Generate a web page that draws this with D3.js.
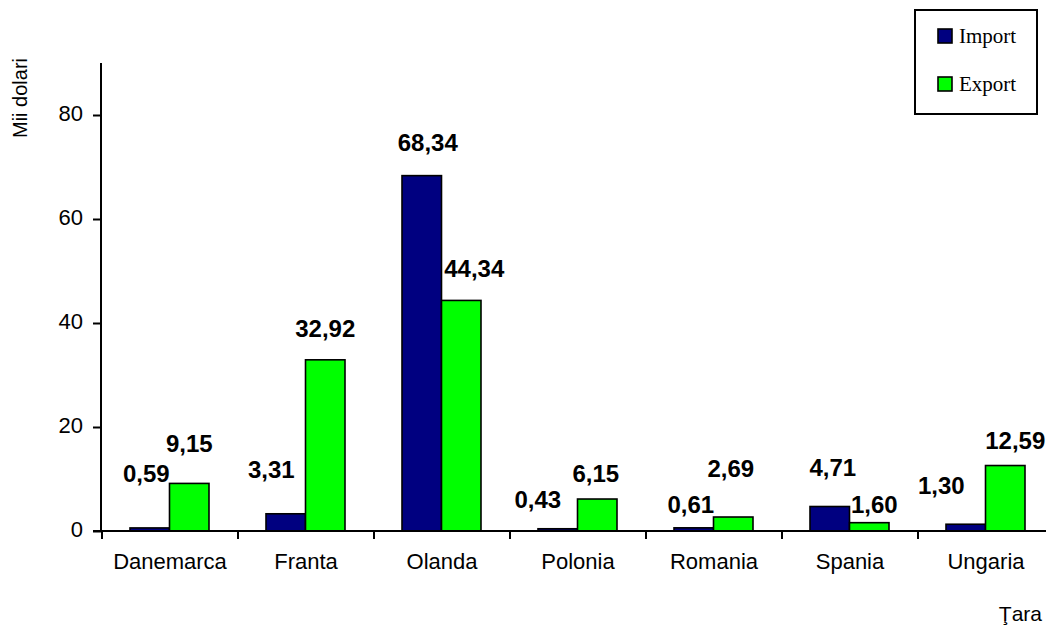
<!DOCTYPE html>
<html>
<head>
<meta charset="utf-8">
<script src="https://cdn.jsdelivr.net/npm/d3@7"></script>
<style>
  html, body { margin: 0; padding: 0; background: #fff; }
  svg { display: block; }
</style>
</head>
<body>
<svg id="chart" width="1046" height="627"></svg>
<script>
// ---- data ----
const categories = ["Danemarca", "Franta", "Olanda", "Polonia", "Romania", "Spania", "Ungaria"];
const seriesNames = ["Import", "Export"];
const importValues = [0.59, 3.31, 68.34, 0.43, 0.61, 4.71, 1.30];
const exportValues = [9.15, 32.92, 44.34, 6.15, 2.69, 1.60, 12.59];
const yTicks = [0, 20, 40, 60, 80];

// ---- layout (manually moved data label nudges, px relative to bar top-centre) ----
const importLabelDx = [-3.5, -14.5, 6, -20, -3, 3, -24.5];
const importLabelDy = [-46, -36, -25, -21, -15, -30.5, -30];
const exportLabelDx = [0, 0, 13, -1.5, -2.5, 5, 10];
const exportLabelDy = [-31, -23, -23, -17, -40, -10, -17];

const colors = { Import: "#000080", Export: "#00FF00" };
const fmt = v => v.toFixed(2).replace(".", ",");

const svg = d3.select("#chart");

const x = d3.scaleBand().domain(categories).range([102, 1054]).paddingInner(0).paddingOuter(0);
const groupPad = 28;
const x1 = d3.scaleBand().domain(seriesNames).range([groupPad, x.bandwidth() - groupPad - 1]).padding(0);
const y = d3.scaleLinear().domain([0, 90]).range([531, 63]);

const seriesData = {
  Import: importValues.map((v, i) => ({ cat: categories[i], v, dx: importLabelDx[i], dy: importLabelDy[i] })),
  Export: exportValues.map((v, i) => ({ cat: categories[i], v, dx: exportLabelDx[i], dy: exportLabelDy[i] }))
};

// bars
seriesNames.forEach(s => {
  svg.append("g").selectAll("rect")
    .data(seriesData[s])
    .join("rect")
    .attr("x", d => x(d.cat) + x1(s))
    .attr("y", d => y(d.v))
    .attr("width", x1.bandwidth())
    .attr("height", d => y(0) - y(d.v))
    .attr("fill", colors[s])
    .attr("stroke", "#000")
    .attr("stroke-width", 1.6);
});

// y axis
const yAxis = d3.axisLeft(y).tickValues(yTicks).tickSize(8).tickPadding(10).tickFormat(d3.format("d"));
const gy = svg.append("g").attr("transform", "translate(101,0)").call(yAxis);
gy.select(".domain").attr("stroke", "#000").attr("stroke-width", 2).attr("d", "M0," + y(90) + "V" + y(0));
gy.selectAll(".tick line").attr("stroke", "#000").attr("stroke-width", 2);
gy.selectAll(".tick text")
  .attr("font-family", "Arial, 'Liberation Sans', sans-serif")
  .attr("font-size", 22).attr("fill", "#000").attr("dy", "0.25em");

// x axis
const gx = svg.append("g").attr("transform", "translate(0," + y(0) + ")");
gx.append("line").attr("x1", 93).attr("x2", 1046).attr("y1", 0).attr("y2", 0)
  .attr("stroke", "#000").attr("stroke-width", 2);
gx.selectAll("line.tk").data(categories).join("line").attr("class", "tk")
  .attr("x1", d => x(d)).attr("x2", d => x(d)).attr("y1", 0).attr("y2", 8)
  .attr("stroke", "#000").attr("stroke-width", 2);
gx.selectAll("text").data(categories).join("text")
  .attr("x", d => x(d) + x.bandwidth() / 2)
  .attr("y", 38)
  .attr("text-anchor", "middle")
  .attr("font-family", "Arial, 'Liberation Sans', sans-serif")
  .attr("font-size", 22).attr("fill", "#000")
  .text(d => d);

// data labels
seriesNames.forEach(s => {
  svg.append("g").selectAll("text")
    .data(seriesData[s])
    .join("text")
    .attr("x", d => x(d.cat) + x1(s) + x1.bandwidth() / 2 + d.dx)
    .attr("y", d => y(d.v) + d.dy)
    .attr("text-anchor", "middle")
    .attr("font-family", "Arial, 'Liberation Sans', sans-serif")
    .attr("font-weight", "bold")
    .attr("font-size", 24).attr("fill", "#000")
    .text(d => fmt(d.v));
});

// axis titles
svg.append("text")
  .attr("transform", "translate(27,98) rotate(-90)")
  .attr("text-anchor", "middle")
  .attr("font-family", "Arial, 'Liberation Sans', sans-serif")
  .attr("font-size", 20).attr("fill", "#000")
  .text("Mii dolari");
svg.append("text")
  .attr("x", 1042).attr("y", 621)
  .attr("text-anchor", "end")
  .attr("font-family", "Arial, 'Liberation Sans', sans-serif")
  .attr("font-size", 21).attr("fill", "#000")
  .text("Ţara");

// legend
const lg = svg.append("g");
lg.append("rect").attr("x", 915).attr("y", 10).attr("width", 122).attr("height", 104)
  .attr("fill", "#fff").attr("stroke", "#000").attr("stroke-width", 2);
const li = lg.selectAll("g.item").data(seriesNames).join("g").attr("class", "item")
  .attr("transform", (d, i) => "translate(938," + (29 + i * 48) + ")");
li.append("rect").attr("width", 14).attr("height", 14)
  .attr("fill", d => colors[d]).attr("stroke", "#000").attr("stroke-width", 1.6);
li.append("text").attr("x", 21).attr("y", 14)
  .attr("font-family", "'Liberation Serif', 'Times New Roman', serif")
  .attr("font-size", 21).attr("fill", "#000")
  .text(d => d);
</script>
</body>
</html>
